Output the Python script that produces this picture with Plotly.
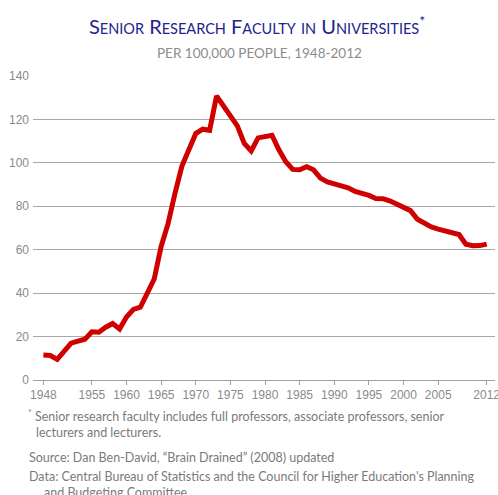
import plotly.graph_objects as go

# Senior research faculty per 100,000 people
years = list(range(1948, 2013))
faculty = [
    11.5, 11.3, 9.5, 13.5, 17.0, 17.9, 18.8, 22.2, 22.0, 24.3,
    26.0, 23.5, 29.0, 32.5, 33.5, 40.0, 46.5, 61.5, 72.0, 86.0,
    98.5, 106.0, 113.5, 115.5, 115.0, 130.8, 126.0, 121.5, 117.0, 109.0,
    105.5, 111.5, 112.3, 112.7, 106.0, 100.5, 97.0, 96.8, 98.2, 96.8,
    93.0, 91.2, 90.3, 89.5, 88.5, 86.8, 86.0, 85.0, 83.6, 83.5,
    82.5, 81.0, 79.5, 78.0, 74.0, 72.0, 70.5, 69.5, 68.5, 67.8,
    67.0, 62.5, 61.8, 61.9, 62.6,
]
x_ticks = [1948, 1955, 1960, 1965, 1970, 1975, 1980, 1985, 1990, 1995, 2000, 2005, 2012]
y_ticks = [0, 20, 40, 60, 80, 100, 120, 140]

W, H = 498, 495
PLOT_L, PLOT_R, PLOT_T, PLOT_B = 33, 495, 76, 380


def px(x):
    return (x - PLOT_L) / (PLOT_R - PLOT_L)


def py(y):
    return (PLOT_B - y) / (PLOT_B - PLOT_T)


def small_caps(text, small=14.5):
    out = []
    for word in text.split(" "):
        first, rest = word[0], word[1:]
        if first.isupper():
            w = first + (f"<span style='font-size:{small}px'>{rest.upper()}</span>" if rest else "")
        else:
            w = f"<span style='font-size:{small}px'>{word.upper()}</span>"
        out.append(w)
    return " ".join(out)


fig = go.Figure()
fig.add_trace(go.Scatter(
    x=years,
    y=faculty,
    mode="lines",
    line=dict(color="#d00000", width=5),
    hoverinfo="skip",
    showlegend=False,
))

grey = "#8a8a8a"
fig.update_layout(
    width=W,
    height=H,
    margin=dict(l=PLOT_L, r=W - PLOT_R, t=PLOT_T, b=H - PLOT_B),
    paper_bgcolor="white",
    plot_bgcolor="white",
    font=dict(family="Liberation Sans, Arial", size=12, color=grey),
    xaxis=dict(
        range=[1946.5, 2013.2],
        tickvals=x_ticks,
        showgrid=False,
        zeroline=False,
        showline=True,
        linecolor="#a0a0a0",
        linewidth=1,
        ticks="outside",
        ticklen=4,
        tickcolor="#a0a0a0",
        automargin=False,
        ticklabeloverflow="allow",
        tickfont=dict(size=12, color=grey),
    ),
    yaxis=dict(
        range=[0, 140],
        tickvals=y_ticks,
        showgrid=True,
        gridcolor="#a8a8a8",
        gridwidth=1,
        zeroline=False,
        showline=False,
        ticks="",
        automargin=False,
        ticklabelstandoff=3,
        tickfont=dict(size=12, color=grey),
    ),
)

title_text = small_caps("Senior Research Faculty in Universities") + "<sup>*</sup>"
fig.add_annotation(
    text=title_text, x=px(257), y=py(25), xref="paper", yref="paper",
    xanchor="center", yanchor="middle",
    showarrow=False, font=dict(family="Lato", size=20, color="#23238c"),
)
fig.add_annotation(
    text="PER 100,000 PEOPLE, 1948-2012", x=px(259), y=py(53), xref="paper", yref="paper",
    xanchor="center", yanchor="middle",
    showarrow=False, font=dict(family="Lato", size=13.5, color="#8c8c8c"),
)

notes_font = dict(family="Lato", size=12.5, color="#7a7a7a")
notes = [
    ("<sup>*</sup> Senior research faculty includes full professors, associate professors, senior", 26, 415),
    ("lecturers and lecturers.", 34, 432),
    ("Source: Dan Ben-David, \u201cBrain Drained\u201d (2008) updated", 27, 457),
    ("Data: Central Bureau of Statistics and the Council for Higher Education's Planning", 27, 476),
    ("and Budgeting Committee", 42, 492),
]
for text, x0, y0 in notes:
    fig.add_annotation(
        text=text, x=px(x0), y=py(y0), xref="paper", yref="paper",
        xanchor="left", yanchor="middle", showarrow=False, font=notes_font,
    )

# drop the default 8px body margin so the figure fills the window exactly
fig.write_html(
    "out.html",
    config={"displayModeBar": False},
    post_script="document.body.style.margin='0';document.body.style.overflow='hidden';",
)
